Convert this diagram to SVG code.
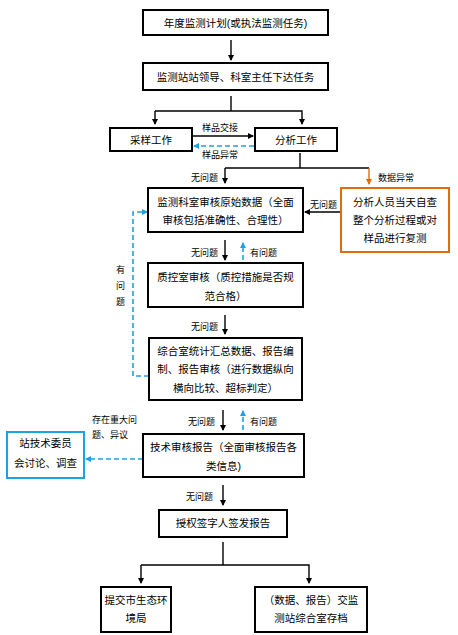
<svg xmlns="http://www.w3.org/2000/svg" width="458" height="635" viewBox="0 0 458 635">
<style>
.box{fill:#fff;stroke:#000;stroke-width:2}
.t{font-family:"Liberation Sans","Noto Sans CJK SC",sans-serif;font-size:10.5px;fill:#000;text-anchor:middle}
.l{font-family:"Liberation Sans","Noto Sans CJK SC",sans-serif;font-size:9px;fill:#000}
.k{fill:none;stroke:#000;stroke-width:1.4}
.b{fill:none;stroke:#1AA3E3;stroke-width:1.6;stroke-dasharray:5,3}
.o{fill:none;stroke:#E36C09;stroke-width:1.4}
</style>
<defs>
<marker id="ak" markerWidth="6" markerHeight="6" refX="5" refY="3" orient="auto" markerUnits="userSpaceOnUse"><path d="M0,0 L6,3 L0,6 z" fill="#000"/></marker>
<marker id="ab" markerWidth="6" markerHeight="6" refX="5" refY="3" orient="auto" markerUnits="userSpaceOnUse"><path d="M0,0 L6,3 L0,6 z" fill="#1AA3E3"/></marker>
<marker id="ao" markerWidth="6" markerHeight="6" refX="5" refY="3" orient="auto" markerUnits="userSpaceOnUse"><path d="M0,0 L6,3 L0,6 z" fill="#E36C09"/></marker>
</defs>
<rect width="458" height="635" fill="#fff"/>

<g id="connectors">
<line class="k" x1="231" y1="40" x2="231" y2="60" marker-end="url(#ak)"/>
<polyline class="k" points="231,96 231,111"/>
<polyline class="k" points="155,111 302,111 302,124" marker-end="url(#ak)"/>
<line class="k" x1="155" y1="111" x2="155" y2="124" marker-end="url(#ak)"/>
<line class="k" x1="192" y1="136" x2="253" y2="136" marker-end="url(#ak)"/>
<line class="b" x1="254" y1="146" x2="194" y2="146" marker-end="url(#ab)"/>
<polyline class="k" points="300,153 300,168"/>
<polyline class="k" points="225,168 369,168"/>
<line class="k" x1="225" y1="168" x2="225" y2="183" marker-end="url(#ak)"/>
<line class="o" x1="369" y1="168" x2="369" y2="184" marker-end="url(#ao)"/>
<line class="k" x1="341" y1="212" x2="305" y2="212" marker-end="url(#ak)"/>
<line class="k" x1="225" y1="240" x2="225" y2="260" marker-end="url(#ak)"/>
<line class="b" x1="243" y1="260" x2="243" y2="243" marker-end="url(#ab)"/>
<polyline class="b" points="149,376 133,376 133,212 147,212" marker-end="url(#ab)"/>
<line class="k" x1="225" y1="315" x2="225" y2="334" marker-end="url(#ak)"/>
<line class="k" x1="223" y1="410" x2="223" y2="430" marker-end="url(#ak)"/>
<line class="b" x1="243" y1="430" x2="243" y2="411" marker-end="url(#ab)"/>
<line class="b" x1="143" y1="459" x2="86" y2="459" marker-end="url(#ab)"/>
<line class="k" x1="223" y1="485" x2="223" y2="505" marker-end="url(#ak)"/>
<polyline class="k" points="223,542 223,565"/>
<polyline class="k" points="141,565 309,565 309,583" marker-end="url(#ak)"/>
<line class="k" x1="141" y1="565" x2="141" y2="583" marker-end="url(#ak)"/>
<text class="l" x="202" y="131">样品交接</text>
<text class="l" x="202" y="158">样品异常</text>
<text class="l" x="191" y="181">无问题</text>
<text class="l" x="378" y="181">数据异常</text>
<text class="l" x="310" y="208">无问题</text>
<text class="l" x="191" y="256">无问题</text>
<text class="l" x="250" y="256">有问题</text>
<text class="l" x="116" y="273">有</text>
<text class="l" x="116" y="289">问</text>
<text class="l" x="116" y="305">题</text>
<text class="l" x="191" y="330">无问题</text>
<text class="l" x="188" y="425">无问题</text>
<text class="l" x="250" y="425">有问题</text>
<text class="l" x="92" y="423">存在重大问</text>
<text class="l" x="92" y="438">题、异议</text>
<text class="l" x="186" y="500">无问题</text>
</g>

<g id="n1"><rect class="box" x="143" y="10" width="185" height="25"/><text class="t" x="235.5" y="26.5">年度监测计划(或执法监测任务)</text></g>
<g id="n2"><rect class="box" x="143" y="63" width="185" height="27"/><text class="t" x="235.5" y="80.5">监测站站领导、科室主任下达任务</text></g>
<g id="n3"><rect class="box" x="110" y="128" width="82" height="23"/><text class="t" x="151" y="143.5">采样工作</text></g>
<g id="n4"><rect class="box" x="255" y="128" width="82" height="23"/><text class="t" x="296" y="143.5">分析工作</text></g>
<g id="n5"><rect class="box" x="148" y="188" width="155" height="44"/><text class="t" x="225.5" y="206">监测科室审核原始数据（全面</text><text class="t" x="225.5" y="224">审核包括准确性、合理性）</text></g>
<g id="n6"><rect x="341" y="188" width="108" height="64" fill="#fff" stroke="#E36C09" stroke-width="2"/><text class="t" x="395" y="206">分析人员当天自查</text><text class="t" x="395" y="224">整个分析过程或对</text><text class="t" x="395" y="242">样品进行复测</text></g>
<g id="n7"><rect class="box" x="148" y="263" width="155" height="44"/><text class="t" x="225.5" y="281">质控室审核（质控措施是否规</text><text class="t" x="225.5" y="300">范合格）</text></g>
<g id="n8"><rect class="box" x="149" y="338" width="153" height="62"/><text class="t" x="225.5" y="355">综合室统计汇总数据、报告编</text><text class="t" x="225.5" y="373">制、报告审核（进行数据纵向</text><text class="t" x="225.5" y="392">横向比较、超标判定）</text></g>
<g id="n9"><rect class="box" x="143" y="434" width="161" height="43"/><text class="t" x="223.5" y="451">技术审核报告（全面审核报告各</text><text class="t" x="223.5" y="470">类信息)</text></g>
<g id="n10"><rect x="7" y="432" width="77" height="46" fill="#fff" stroke="#1AA3E3" stroke-width="2"/><text class="t" x="45.5" y="447">站技术委员</text><text class="t" x="45.5" y="467">会讨论、调查</text></g>
<g id="n11"><rect class="box" x="159" y="510" width="128" height="27"/><text class="t" x="223" y="527">授权签字人签发报告</text></g>
<g id="n12"><rect class="box" x="101" y="587" width="70" height="45"/><text class="t" x="136" y="604">提交市生态环</text><text class="t" x="136" y="622">境局</text></g>
<g id="n13"><rect class="box" x="255" y="587" width="112" height="45"/><text class="t" x="311" y="604">（数据、报告）交监</text><text class="t" x="311" y="622">测站综合室存档</text></g>
</svg>
